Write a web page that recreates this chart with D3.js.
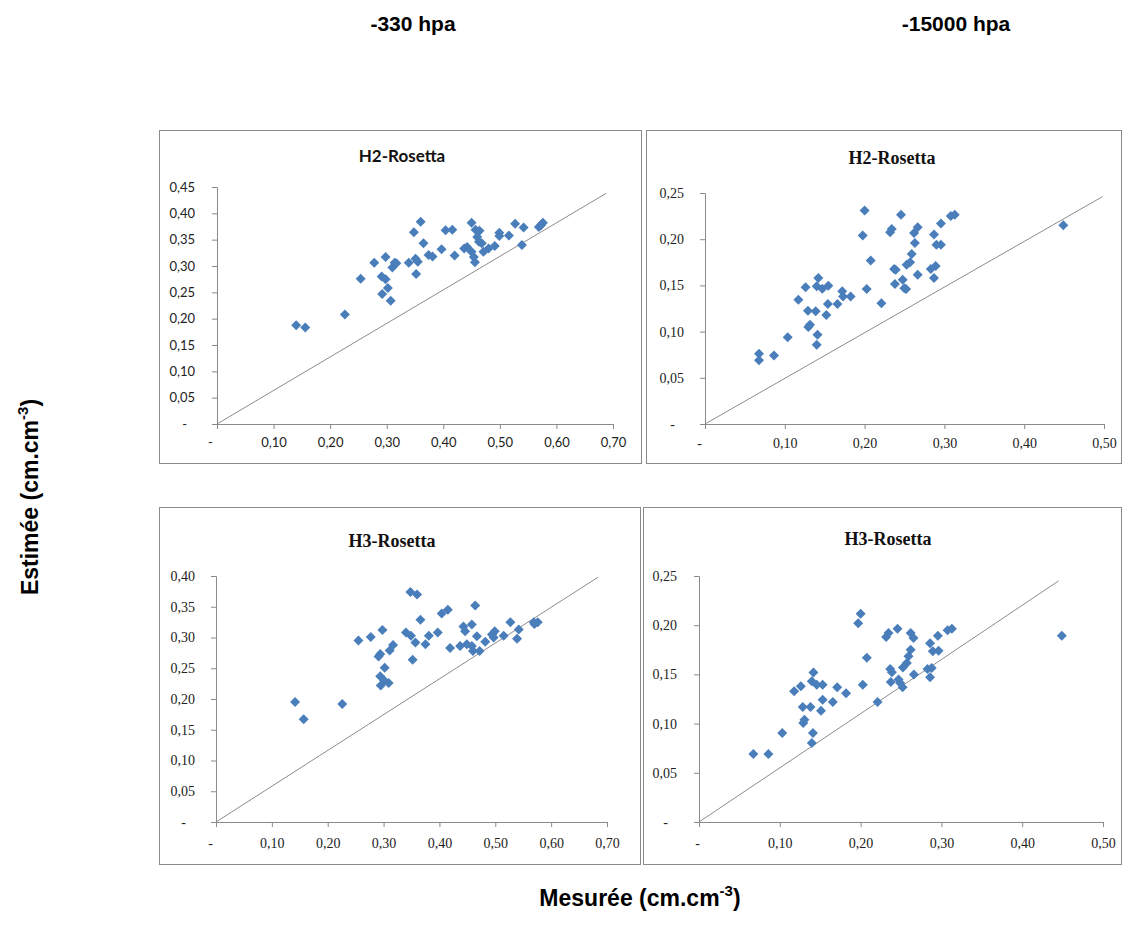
<!DOCTYPE html>
<html><head><meta charset="utf-8">
<script src="https://cdn.jsdelivr.net/npm/d3@7"></script>
<style>body{margin:0;background:#fff}</style>
</head><body>
<svg id="c" width="1129" height="944"></svg>
<script>
// ---- data ----
const headers = ["-330 hpa", "-15000 hpa"];
const yLabel = "Estimée (cm.cm";
const xLabel = "Mesurée (cm.cm";
const panelTitles = ["H2-Rosetta", "H2-Rosetta", "H3-Rosetta", "H3-Rosetta"];

const ticks07 = [0, 0.1, 0.2, 0.3, 0.4, 0.5, 0.6, 0.7];
const ticks05 = [0, 0.1, 0.2, 0.3, 0.4, 0.5];
const yTicks45 = [0, 0.05, 0.1, 0.15, 0.2, 0.25, 0.3, 0.35, 0.4, 0.45];
const yTicks40 = [0, 0.05, 0.1, 0.15, 0.2, 0.25, 0.3, 0.35, 0.4];
const yTicks25 = [0, 0.05, 0.1, 0.15, 0.2, 0.25];

// reference line end points (data space)
const lineEnds = [[0.688, 0.438], [0.498, 0.246], [0.684, 0.398], [0.445, 0.245]];

// Panel 1: H2-Rosetta -330 hpa
const p1 = [[0.140,0.1875],[0.156,0.183],[0.226,0.208],[0.254,0.276],[0.278,0.306],[0.298,0.317],[0.291,0.280],[0.298,0.275],[0.292,0.247],[0.302,0.258],[0.307,0.234],[0.310,0.297],[0.314,0.306],[0.317,0.305],[0.339,0.306],[0.348,0.364],[0.360,0.384],[0.351,0.314],[0.352,0.285],[0.355,0.308],[0.365,0.343],[0.374,0.321],[0.381,0.318],[0.397,0.332],[0.404,0.368],[0.416,0.369],[0.420,0.320],[0.437,0.333],[0.442,0.336],[0.450,0.327],[0.454,0.317],[0.456,0.307],[0.450,0.382],[0.457,0.369],[0.464,0.367],[0.460,0.355],[0.463,0.346],[0.468,0.343],[0.471,0.327],[0.480,0.333],[0.491,0.338],[0.499,0.363],[0.499,0.357],[0.516,0.358],[0.527,0.380],[0.542,0.373],[0.539,0.340],[0.569,0.374],[0.576,0.382],[0.573,0.378]];

// Panel 2: H2-Rosetta -15000 hpa
const p2 = [[0.0677,0.0761],[0.0677,0.0689],[0.0865,0.074],[0.1036,0.094],[0.117,0.1346],[0.126,0.148],[0.129,0.1227],[0.1295,0.105],[0.1316,0.1075],[0.1387,0.122],[0.141,0.0967],[0.140,0.0859],[0.142,0.158],[0.140,0.149],[0.147,0.1465],[0.154,0.130],[0.152,0.118],[0.1545,0.1497],[0.166,0.130],[0.172,0.1436],[0.173,0.138],[0.1825,0.138],[0.1976,0.204],[0.200,0.231],[0.2026,0.146],[0.2076,0.177],[0.221,0.1306],[0.232,0.2074],[0.234,0.211],[0.237,0.1677],[0.238,0.1515],[0.239,0.167],[0.2456,0.2265],[0.2477,0.156],[0.2498,0.147],[0.252,0.146],[0.2527,0.1724],[0.257,0.175],[0.259,0.184],[0.262,0.2067],[0.263,0.196],[0.2665,0.213],[0.2665,0.1616],[0.283,0.1677],[0.287,0.205],[0.289,0.171],[0.287,0.158],[0.290,0.194],[0.2957,0.194],[0.2957,0.217],[0.308,0.225],[0.313,0.2265],[0.449,0.215]];

// Panel 3: H3-Rosetta -330 hpa
const p3 = [[0.1416,0.195],[0.157,0.167],[0.226,0.192],[0.255,0.295],[0.277,0.301],[0.298,0.312],[0.291,0.269],[0.294,0.273],[0.294,0.237],[0.302,0.251],[0.295,0.222],[0.301,0.230],[0.309,0.226],[0.311,0.279],[0.317,0.288],[0.340,0.308],[0.348,0.374],[0.360,0.370],[0.349,0.303],[0.352,0.264],[0.357,0.292],[0.366,0.329],[0.375,0.289],[0.381,0.303],[0.397,0.308],[0.404,0.339],[0.415,0.345],[0.419,0.283],[0.437,0.286],[0.443,0.318],[0.446,0.310],[0.449,0.289],[0.458,0.321],[0.458,0.286],[0.464,0.352],[0.467,0.302],[0.460,0.278],[0.472,0.278],[0.482,0.293],[0.494,0.305],[0.499,0.310],[0.497,0.300],[0.515,0.303],[0.527,0.325],[0.539,0.298],[0.542,0.313],[0.569,0.325],[0.576,0.325],[0.570,0.322]];

// Panel 4: H3-Rosetta -15000 hpa
const p4 = [[0.0673,0.0691],[0.0859,0.0691],[0.103,0.0904],[0.1177,0.1328],[0.126,0.1379],[0.1284,0.1169],[0.129,0.1006],[0.1305,0.104],[0.138,0.1169],[0.141,0.0904],[0.1396,0.0803],[0.1416,0.152],[0.1396,0.143],[0.1457,0.1396],[0.153,0.1396],[0.153,0.1243],[0.151,0.113],[0.1656,0.122],[0.171,0.1369],[0.182,0.1308],[0.197,0.202],[0.200,0.2117],[0.2027,0.1396],[0.2077,0.167],[0.221,0.122],[0.2316,0.188],[0.2345,0.192],[0.2366,0.1555],[0.2374,0.1423],[0.2387,0.1521],[0.2457,0.1965],[0.247,0.1447],[0.249,0.1413],[0.252,0.1369],[0.2523,0.157],[0.2572,0.1616],[0.2593,0.1684],[0.262,0.175],[0.262,0.192],[0.2655,0.187],[0.266,0.1498],[0.2828,0.1555],[0.286,0.1816],[0.286,0.147],[0.288,0.1565],[0.2894,0.1734],[0.2956,0.1894],[0.2965,0.174],[0.3076,0.1948],[0.313,0.1965],[0.449,0.1894]];

// ---- layout ----
const svg = d3.select("#c");
const sans = "Lato, 'Open Sans', sans-serif";
const serif = "'Liberation Serif', 'DejaVu Serif', serif";
const panels = [
  {pts:p1, title:panelTitles[0], xt:ticks07, yt:yTicks45, frame:[159,130,641,463], px:[217,613], py:[424,187], titleXY:[402,162], font:sans, fsize:13, tfont:sans, tsize:17, line:lineEnds[0], lbl:{yEnd:22, xDy:20, dashX:-7, dashY:-8}},
  {pts:p2, title:panelTitles[1], xt:ticks05, yt:yTicks25, frame:[646,130,1121,463], px:[705,1104], py:[424,193], titleXY:[892,164], font:serif, fsize:14, tfont:serif, tsize:18, line:lineEnds[1], lbl:{yEnd:21, xDy:20, dashX:-6, dashY:-9}},
  {pts:p3, title:panelTitles[2], xt:ticks07, yt:yTicks40, frame:[159,507,640,864], px:[216,607], py:[822,576], titleXY:[392,547], font:serif, fsize:14, tfont:serif, tsize:18, line:lineEnds[2], lbl:{yEnd:21, xDy:22, dashX:-6, dashY:-9}},
  {pts:p4, title:panelTitles[3], xt:ticks05, yt:yTicks25, frame:[643,507,1121,864], px:[699,1103], py:[822,576], titleXY:[888,545], font:serif, fsize:14, tfont:serif, tsize:18, line:lineEnds[3], lbl:{yEnd:22, xDy:22, dashX:-2, dashY:-9}}
];

const fmt = d => d === 0 ? "-" : d.toFixed(2).replace(".", ",");
const diamond = "M0,-5L5,0L0,5L-5,0Z";

panels.forEach(p => {
  const g = svg.append("g");
  const [fx0, fy0, fx1, fy1] = p.frame;
  g.append("rect").attr("x", fx0 + 0.5).attr("y", fy0 + 0.5)
    .attr("width", fx1 - fx0).attr("height", fy1 - fy0)
    .attr("fill", "#fff").attr("stroke", "#8a8a8a").attr("stroke-width", 1);

  const x = d3.scaleLinear().domain([0, p.xt[p.xt.length - 1]]).range(p.px);
  const y = d3.scaleLinear().domain([0, p.yt[p.yt.length - 1]]).range(p.py);

  const xa = g.append("g").attr("transform", `translate(0,${p.py[0]})`)
    .call(d3.axisBottom(x).tickValues(p.xt).tickFormat(fmt).tickSizeOuter(0).tickSize(5).tickPadding(p.lbl.xDy - 11));
  const ya = g.append("g").attr("transform", `translate(${p.px[0]},0)`)
    .call(d3.axisLeft(y).tickValues(p.yt).tickFormat(fmt).tickSizeOuter(0).tickSize(5).tickPadding(p.lbl.yEnd - 5));

  [xa, ya].forEach(a => {
    a.select(".domain").attr("stroke", "#8a8a8a");
    a.selectAll(".tick line").attr("stroke", "#8a8a8a");
    a.selectAll(".tick text").attr("fill", "#222").style("font-family", p.font).style("font-size", p.fsize + "px");
  });
  xa.selectAll(".tick text").filter(d => d === 0).attr("dx", p.lbl.dashX);
  ya.selectAll(".tick text").filter(d => d === 0).attr("dx", p.lbl.dashY);

  g.append("path").datum([[0, 0], p.line])
    .attr("d", d3.line().x(d => x(d[0])).y(d => y(d[1])))
    .attr("fill", "none").attr("stroke", "#8c8c8c").attr("stroke-width", 1);

  g.append("g").selectAll("path").data(p.pts).join("path")
    .attr("d", diamond)
    .attr("transform", d => `translate(${x(d[0])},${y(d[1])})`)
    .attr("fill", "#4A7EBB");

  g.append("text").attr("x", p.titleXY[0]).attr("y", p.titleXY[1])
    .attr("text-anchor", "middle").style("font-family", p.tfont)
    .style("font-size", p.tsize + "px").style("font-weight", "bold").attr("fill", "#111")
    .text(p.title);
});

// headers
const hfont = "'Liberation Sans', Arial, sans-serif";
svg.append("text").attr("x", 413).attr("y", 31).attr("text-anchor", "middle")
  .style("font-family", hfont).style("font-size", "21px").style("font-weight", "bold")
  .text(headers[0]);
svg.append("text").attr("x", 956).attr("y", 31).attr("text-anchor", "middle")
  .style("font-family", hfont).style("font-size", "21px").style("font-weight", "bold")
  .text(headers[1]);

// axis titles
const xt = svg.append("text").attr("x", 640).attr("y", 906).attr("text-anchor", "middle")
  .style("font-family", hfont).style("font-size", "23px").style("font-weight", "bold");
xt.append("tspan").text(xLabel);
xt.append("tspan").attr("dy", -10).style("font-size", "15px").text("-3");
xt.append("tspan").attr("dy", 10).text(")");

const yt = svg.append("text").attr("transform", "translate(38,497) rotate(-90)").attr("text-anchor", "middle")
  .style("font-family", hfont).style("font-size", "23px").style("font-weight", "bold");
yt.append("tspan").text(yLabel);
yt.append("tspan").attr("dy", -10).style("font-size", "15px").text("-3");
yt.append("tspan").attr("dy", 10).text(")");
</script>
</body></html>
